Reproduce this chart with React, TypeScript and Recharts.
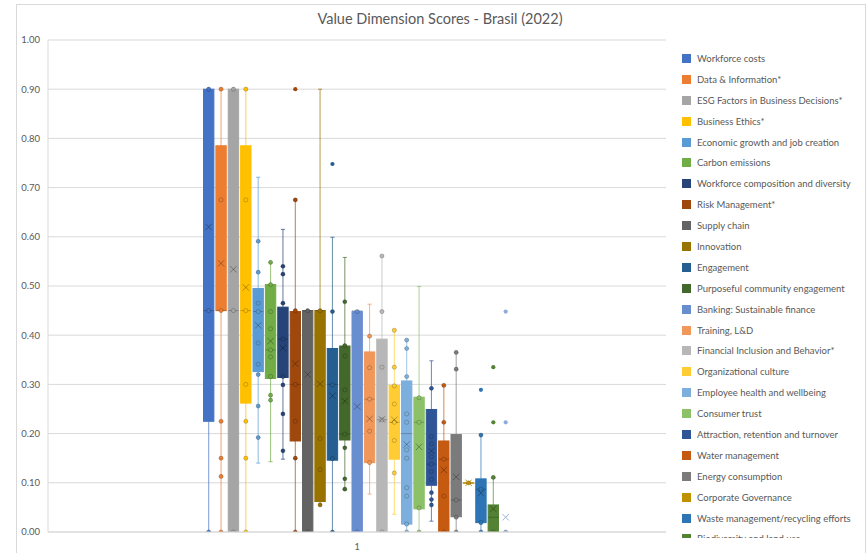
import React from 'react';
import { BarChart, Bar, XAxis, YAxis, CartesianGrid } from 'recharts';

const CATEGORIES = ['1'];

const NAMES = [
  'Workforce costs',
  'Data & Information*',
  'ESG Factors in Business Decisions*',
  'Business Ethics*',
  'Economic growth and job creation',
  'Carbon emissions',
  'Workforce composition and diversity',
  'Risk Management*',
  'Supply chain',
  'Innovation',
  'Engagement',
  'Purposeful community engagement',
  'Banking: Sustainable finance',
  'Training, L&D',
  'Financial Inclusion and Behavior*',
  'Organizational culture',
  'Employee health and wellbeing',
  'Consumer trust',
  'Attraction, retention and turnover',
  'Water management',
  'Energy consumption',
  'Corporate Governance',
  'Waste management/recycling efforts',
  'Biodiversity and land use',
  'Other',
];

const COLORS = [
  '#4472C4', '#ED7D31', '#A5A5A5', '#FFC000', '#5B9BD5', '#70AD47',
  '#264478', '#9E480E', '#636363', '#997300', '#255E91', '#43682B',
  '#698ED0', '#F1975A', '#B7B7B7', '#FFCD33', '#7CAFDD', '#8CC168',
  '#2F5597', '#C55A11', '#7B7B7B', '#BF9000', '#2E75B6', '#548235',
  '#8FAADC',
];

// whisker low / Q1 / median / Q3 / whisker high / mean
const LOW = [0, 0, 0, 0, 0.14, 0.143, 0.148, 0, 0, 0.055, 0, 0.087, 0, 0.077, 0, 0.036, 0, 0, 0.022, 0, 0, 0.1, 0, 0, 0];
const Q1 = [0.225, 0.45, 0, 0.262, 0.326, 0.312, 0.314, 0.185, 0, 0.062, 0.146, 0.187, 0, 0.141, 0, 0.148, 0.016, 0.047, 0.095, 0, 0.031, 0.1, 0.019, 0, 0];
const MEDIAN = [0.45, 0.45, 0.45, 0.45, 0.448, 0.37, 0.392, 0.3, 0.45, 0.45, 0.3, 0.199, 0.45, 0.27, 0.228, 0.223, 0.2, 0.223, 0.138, 0.148, 0.065, 0.1, 0.087, 0.03, 0];
const Q3 = [0.9, 0.785, 0.9, 0.785, 0.495, 0.503, 0.457, 0.448, 0.45, 0.45, 0.373, 0.378, 0.448, 0.366, 0.392, 0.298, 0.307, 0.274, 0.249, 0.185, 0.198, 0.1, 0.108, 0.055, 0];
const HIGH = [0.9, 0.9, 0.9, 0.9, 0.721, 0.548, 0.615, 0.675, 0.45, 0.9, 0.599, 0.558, 0.448, 0.463, 0.561, 0.412, 0.39, 0.499, 0.348, 0.298, 0.365, 0.1, 0.198, 0.11, 0];
const MEAN = [0.62, 0.546, 0.534, 0.497, 0.42, 0.388, 0.374, 0.342, 0.32, 0.301, 0.277, 0.266, 0.255, 0.23, 0.229, 0.228, 0.178, 0.173, 0.165, 0.126, 0.112, 0.1, 0.079, 0.047, 0.03];

const POINTS: number[][] = [
  [0.9, 0.45, 0],
  [0.9, 0.675, 0.45, 0.225, 0.15, 0.113, 0],
  [0.9, 0.45, 0],
  [0.9, 0.675, 0.45, 0.3, 0.225, 0.15, 0],
  [0.591, 0.528, 0.465, 0.448, 0.384, 0.341, 0.32, 0.256, 0.192],
  [0.548, 0.503, 0.448, 0.413, 0.37, 0.356, 0.316, 0.278, 0.268],
  [0.54, 0.524, 0.465, 0.392, 0.316, 0.299, 0.24, 0.165],
  [0.675, 0.45, 0.3, 0.225, 0.15, 0],
  [0.45, 0],
  [0.45, 0.19, 0.127, 0.055],
  [0.448, 0.299, 0.149, 0],
  [0.468, 0.379, 0.358, 0.289, 0.199, 0.171, 0.108, 0.087],
  [0.448, 0],
  [0.398, 0.334, 0.27, 0.205, 0.141],
  [0.561, 0.448, 0.335, 0.228, 0],
  [0.41, 0.335, 0.297, 0.26, 0.223, 0.186, 0.12],
  [0.39, 0.373, 0.316, 0.24, 0.223, 0.167, 0.15, 0.09, 0.073, 0.016, 0],
  [0.273, 0.223, 0.049, 0],
  [0.292, 0.194, 0.179, 0.153, 0.138, 0.123, 0.107, 0.08, 0.066, 0.055],
  [0.298, 0.223, 0.148, 0.073, 0],
  [0.365, 0.331, 0.065, 0.03, 0],
  [0.1],
  [0.197, 0.087, 0.019, 0],
  [0.111, 0],
  [0],
];

const OUTLIERS: number[][] = [
  [], [], [], [], [], [], [], [0.9], [], [], [0.748], [], [], [], [], [], [], [], [], [], [], [], [0.289], [0.335, 0.223], [0.448, 0.223],
];

const Y_TICKS = [0, 0.1, 0.2, 0.3, 0.4, 0.5, 0.6, 0.7, 0.8, 0.9, 1.0];

// number of legend entries that fit in the chart frame (the rest is cut off, as in the original)
const LEGEND_VISIBLE = 24;

const TOP = NAMES.map((_, i) => Math.max(HIGH[i], Q3[i], ...POINTS[i], ...OUTLIERS[i]));

const data = CATEGORIES.map((c) => {
  const row: Record<string, any> = { name: c };
  NAMES.forEach((_, i) => {
    row[`s${i}`] = TOP[i];
  });
  return row;
});

const FONT = 'Lato, "Open Sans", sans-serif';
const TEXT = '#595959';

function makeShape(i: number) {
  return (props: any) => {
    const { x, y, width, height } = props;
    if (x == null || y == null || !height) return <g />;
    const ref = TOP[i];
    const pix = (v: number) => y + height * (1 - v / ref);
    const color = COLORS[i];
    const cx = x + width / 2;
    const cap = width * 0.18;
    const yQ1 = pix(Q1[i]);
    const yQ3 = pix(Q3[i]);
    const yLow = pix(LOW[i]);
    const yHigh = pix(HIGH[i]);
    const yMed = pix(MEDIAN[i]);
    const yMean = pix(MEAN[i]);
    const hasBox = Q3[i] > Q1[i] || HIGH[i] > LOW[i] || Q1[i] > 0;
    const m = 3.2;
    return (
      <g>
        {HIGH[i] > Q3[i] && (
          <g stroke={color} strokeOpacity={0.65} strokeWidth={1.1}>
            <line x1={cx} x2={cx} y1={yQ3} y2={yHigh} />
            <line x1={cx - cap} x2={cx + cap} y1={yHigh} y2={yHigh} />
          </g>
        )}
        {LOW[i] < Q1[i] && (
          <g stroke={color} strokeOpacity={0.65} strokeWidth={1.1}>
            <line x1={cx} x2={cx} y1={yQ1} y2={yLow} />
            <line x1={cx - cap} x2={cx + cap} y1={yLow} y2={yLow} />
          </g>
        )}
        {hasBox && (
          <rect
            x={x + 0.5}
            y={yQ3}
            width={width - 1}
            height={Math.max(yQ1 - yQ3, 0.5)}
            fill={color}
            stroke={color}
            strokeWidth={1}
          />
        )}
        {Q3[i] > Q1[i] && (
          <line x1={x + 0.5} x2={x + width - 0.5} y1={yMed} y2={yMed} stroke="#000" strokeOpacity={0.22} strokeWidth={1} />
        )}
        {POINTS[i].map((v, k) => (
          <circle key={`p${k}`} cx={cx} cy={pix(v)} r={2.1} fill={color} stroke="#000" strokeOpacity={0.28} strokeWidth={0.7} />
        ))}
        {OUTLIERS[i].map((v, k) => (
          <circle key={`o${k}`} cx={cx} cy={pix(v)} r={2.1} fill={color} />
        ))}
        <g stroke={hasBox && Q3[i] > Q1[i] ? '#000' : color} strokeOpacity={hasBox && Q3[i] > Q1[i] ? 0.3 : 0.9} strokeWidth={1}>
          <line x1={cx - m} x2={cx + m} y1={yMean - m} y2={yMean + m} />
          <line x1={cx - m} x2={cx + m} y1={yMean + m} y2={yMean - m} />
        </g>
      </g>
    );
  };
}

function ChartLegend() {
  return (
    <div
      style={{
        position: 'absolute',
        left: 666,
        top: 40,
        width: 190,
        height: 498,
        overflow: 'hidden',
        paddingTop: 8,
        boxSizing: 'border-box',
        fontFamily: FONT,
        fontSize: 9.5,
        color: TEXT,
      }}
    >
      {NAMES.slice(0, LEGEND_VISIBLE).map((n, i) => (
        <div key={n} style={{ display: 'flex', alignItems: 'center', height: 20.9, paddingLeft: 16 }}>
          <span style={{ display: 'inline-block', width: 9, height: 9, background: COLORS[i], marginRight: 6, flex: 'none' }} />
          <span style={{ whiteSpace: 'nowrap' }}>{n}</span>
        </div>
      ))}
    </div>
  );
}

export default function App() {
  return (
    <div style={{ position: 'absolute', left: 0, top: 0, width: 868, height: 553, background: '#fff', overflow: 'hidden' }}>
      <div
        style={{
          position: 'absolute',
          left: 16,
          top: 4,
          width: 848,
          height: 600,
          border: '1px solid #D9D9D9',
        }}
      />
      <div
        style={{
          position: 'absolute',
          left: 0,
          top: 10,
          width: 880,
          textAlign: 'center',
          fontFamily: FONT,
          fontSize: 14.5,
          color: TEXT,
        }}
      >
        Value Dimension Scores - Brasil (2022)
      </div>
      <div style={{ position: 'absolute', left: 0, top: 0 }}>
        <BarChart
          width={868}
          height={553}
          data={data}
          margin={{ top: 40, right: 202, bottom: 0, left: 14 }}
          barSize={11.375}
          barGap={1}
          style={{ fontFamily: FONT }}
        >
          <CartesianGrid vertical={false} stroke="#D9D9D9" />
          <XAxis
            dataKey="name"
            height={21}
            axisLine={{ stroke: '#D9D9D9' }}
            tickLine={false}
            tickMargin={6}
            tick={{ fill: TEXT, fontSize: 9 }}
          />
          <YAxis
            width={34}
            domain={[0, 1]}
            ticks={Y_TICKS}
            tickFormatter={(v: number) => v.toFixed(2)}
            axisLine={{ stroke: '#D9D9D9' }}
            tickLine={false}
            tickSize={0}
            tickMargin={8}
            tick={{ fill: TEXT, fontSize: 9.5 }}
            allowDataOverflow
          />
          {NAMES.map((n, i) => (
            <Bar
              key={n}
              dataKey={`s${i}`}
              name={n}
              fill={COLORS[i]}
              isAnimationActive={false}
              shape={makeShape(i)}
            />
          ))}
        </BarChart>
      </div>
      <ChartLegend />
    </div>
  );
}
